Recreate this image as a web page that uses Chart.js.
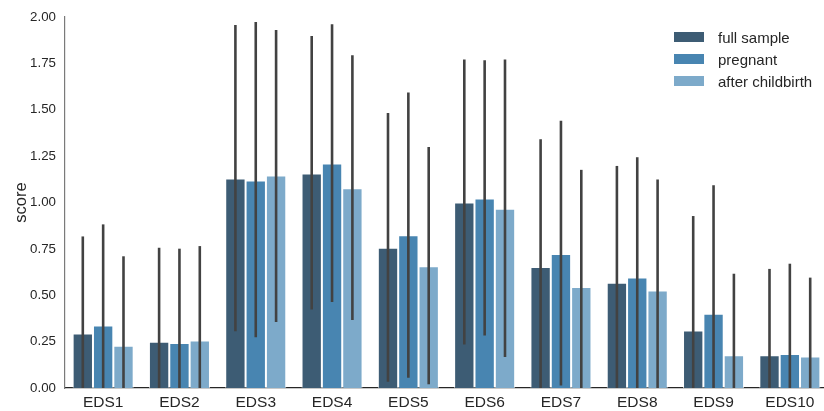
<!DOCTYPE html>
<html>
<head>
<meta charset="utf-8">
<script src="https://cdn.jsdelivr.net/npm/chart.js@4/dist/chart.umd.min.js"></script>
<style>
  body { margin: 0; background: #fff; overflow: hidden; }
  .wrap { position: relative; width: 830px; height: 411px; }
  .legend { position: absolute; left: 674px; top: 26px; font-family: "Liberation Sans", Arial, sans-serif; font-size: 15px; color: #262626; }
  .legend div { height: 22px; display: flex; align-items: center; }
  .legend span.box { display: inline-block; width: 30px; height: 10px; margin-right: 14px; }
</style>
</head>
<body>
<div class="wrap">
  <canvas id="myChart" width="830" height="411"></canvas>
  <div class="legend" id="legend"></div>
</div>
<script>
const $ = document.querySelector.bind(document);

// categories
const labels = [`EDS1`, `EDS2`, `EDS3`, `EDS4`, `EDS5`, `EDS6`, `EDS7`, `EDS8`, `EDS9`, `EDS10`];
const seriesNames = [`full sample`, `pregnant`, `after childbirth`];
const yTicks = [0, 0.25, 0.5, 0.75, 1.0, 1.25, 1.5, 1.75, 2.0];

// mean scores
const fullSample = [0.294, 0.249, 1.129, 1.156, 0.756, 1.0, 0.652, 0.568, 0.310, 0.176];
const pregnant = [0.337, 0.242, 1.118, 1.21, 0.823, 1.022, 0.722, 0.595, 0.400, 0.183];
const afterBirth = [0.228, 0.256, 1.145, 1.077, 0.656, 0.966, 0.545, 0.525, 0.176, 0.170];

// error bar ends (low / high)
const fullLow = [0, 0, 0.306, 0.423, 0.034, 0.235, 0, 0, 0, 0];
const fullHigh = [0.817, 0.756, 1.957, 1.898, 1.482, 1.771, 1.341, 1.197, 0.927, 0.642];
const pregLow = [0, 0, 0.274, 0.464, 0.055, 0.283, 0.013, 0, 0, 0];
const pregHigh = [0.882, 0.751, 1.973, 1.961, 1.593, 1.767, 1.441, 1.244, 1.093, 0.670];
const afterLow = [0, 0, 0.356, 0.366, 0.02, 0.167, 0, 0, 0, 0];
const afterHigh = [0.710, 0.765, 1.93, 1.794, 1.299, 1.771, 1.176, 1.124, 0.616, 0.595];

const colors = [`#3d5c74`, `#4885b1`, `#7daaca`];
const errLows = [fullLow, pregLow, afterLow];
const errHighs = [fullHigh, pregHigh, afterHigh];

const errorBars = {
  id: `errorBars`,
  afterDatasetsDraw(chart) {
    const ctx = chart.ctx;
    const yScale = chart.scales.y;
    ctx.save();
    ctx.strokeStyle = `#424242`;
    ctx.lineWidth = 2.6;
    chart.data.datasets.forEach((ds, i) => {
      chart.getDatasetMeta(i).data.forEach((bar, j) => {
        const lo = yScale.getPixelForValue(errLows[i][j]);
        const hi = yScale.getPixelForValue(errHighs[i][j]);
        ctx.beginPath();
        ctx.moveTo(bar.x, lo);
        ctx.lineTo(bar.x, hi);
        ctx.stroke();
      });
    });
    ctx.restore();
  }
};

const font = `"Liberation Sans", Arial, sans-serif`;

const chart = new Chart($(`#myChart`).getContext(`2d`), {
  type: `bar`,
  data: {
    labels: labels,
    datasets: [fullSample, pregnant, afterBirth].map((d, i) => ({
      label: seriesNames[i],
      data: d,
      backgroundColor: colors[i],
      borderColor: `rgba(255,255,255,0.7)`,
      borderWidth: 1,
      categoryPercentage: 0.8,
      barPercentage: 1.0,
    })),
  },
  options: {
    responsive: false,
    animation: false,
    layout: { padding: { top: 8, right: 2, left: 0, bottom: 0 } },
    plugins: { legend: { display: false }, tooltip: { enabled: false } },
    scales: {
      x: {
        grid: { display: false, drawTicks: false },
        border: { color: `#262626`, width: 1.2 },
        ticks: { color: `#262626`, font: { family: font, size: 15.5 }, padding: 5 },
        afterFit: (s) => { s.height = 23; },
      },
      y: {
        min: 0,
        max: 2,
        afterBuildTicks: (s) => { s.ticks = yTicks.map((v) => ({ value: v })); },
        grid: { display: false, drawTicks: false },
        border: { color: `#7a7a7a`, width: 1.2 },
        ticks: {
          color: `#262626`,
          font: { family: font, size: 13.3 },
          padding: 9,
          callback: (v) => v.toFixed(2),
        },
        title: { display: true, text: `score`, color: `#262626`, font: { family: font, size: 16.5 }, padding: { top: 12, bottom: 0 } },
        afterFit: (s) => { s.width = 65; },
      },
    },
  },
  plugins: [errorBars],
});

const legendDiv = $(`#legend`);
chart.data.datasets.forEach((ds) => {
  legendDiv.innerHTML += `<div><span class="box" style="background:${ds.backgroundColor}"></span>${ds.label}</div>`;
});
</script>
</body>
</html>
